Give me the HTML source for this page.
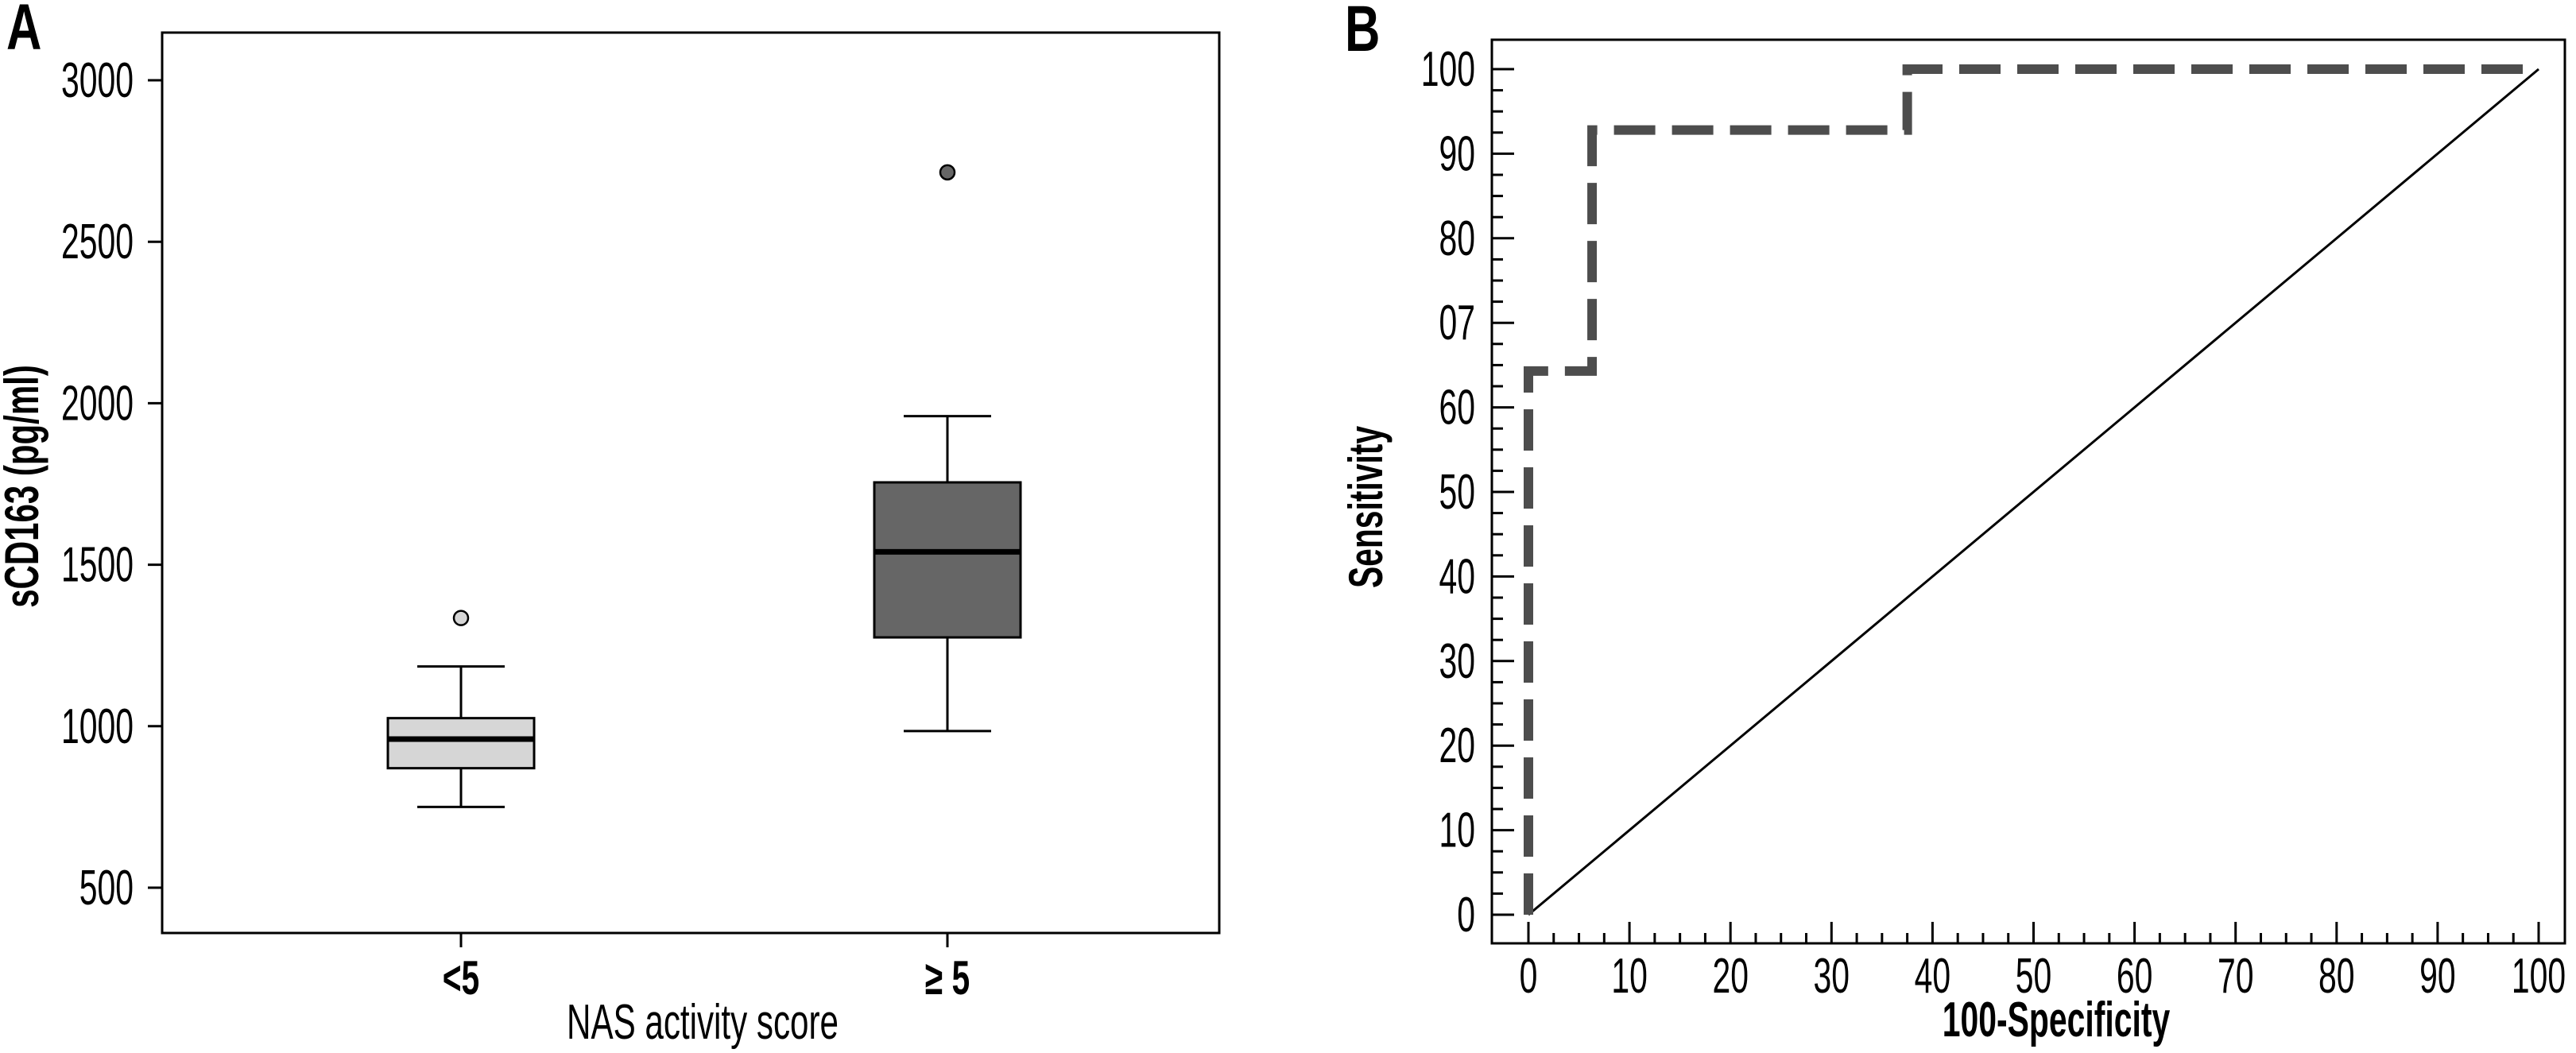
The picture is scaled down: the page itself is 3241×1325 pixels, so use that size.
<!DOCTYPE html>
<html><head><meta charset="utf-8"><style>
html,body{margin:0;padding:0;background:#fff;}
svg{display:block;}
text{font-family:"Liberation Sans",sans-serif;fill:#000;}
</style></head><body>
<svg id="chart" width="3241" height="1325" viewBox="0 0 3241 1325" xmlns="http://www.w3.org/2000/svg">
<g id="pa"></g>
<g id="pb"></g>
</svg>
<script>
// Panel A data
const groups = ["<5", "\u2265 5"];
const whiskerLow = [750, 985];
const q1 = [870, 1275];
const median = [960, 1540];
const q3 = [1025, 1755];
const whiskerHigh = [1185, 1960];
const outliers = [1335, 2715];
const boxFills = ["#d6d6d6", "#666666"];
const yTicksA = [500, 1000, 1500, 2000, 2500, 3000];
// Panel B data
const rocX = [0, 0, 6.3, 6.3, 37.5, 37.5, 100];
const rocY = [0, 64.3, 64.3, 92.8, 92.8, 100, 100];
const refX = [0, 100];
const refY = [0, 100];
const xTicksB = [0,10,20,30,40,50,60,70,80,90,100];
const yTicksB = [0,10,20,30,40,50,60,70,80,90,100];
const yTickLabelsB = ["0","10","20","30","40","50","60","07","80","90","100"];

const NS = "http://www.w3.org/2000/svg";
function mk(parent, tag, attrs){const e=document.createElementNS(NS,tag);for(const k in attrs)e.setAttribute(k,attrs[k]);parent.appendChild(e);return e;}
function txt(parent, s, x, y, size, anchor, weight, sx){
  const g=mk(parent,"g",{transform:`translate(${x},${y}) scale(${sx},1)`});
  const t=mk(g,"text",{x:0,y:0,"font-size":size,"text-anchor":anchor,"font-weight":weight});
  t.textContent=s;return t;
}
// ---- Panel A ----
const pa=document.getElementById("pa");
const AL=204, AR=1534, AT=41, AB=1174;
const yA=v=>101+(3000-v)/2500*(1117-101);
const xA=i=>[580,1192][i];
const frameA=mk(pa,"rect",{x:AL,y:AT,width:AR-AL,height:AB-AT,fill:"none",stroke:"#000","stroke-width":3});


yTicksA.forEach(v=>{
  const l=mk(pa,"line",{x1:AL-18,x2:AL,y1:yA(v),y2:yA(v),stroke:"#000","stroke-width":3});
  
  
  const t=txt(pa,String(v),168,yA(v)+21,62,"end","normal",0.66);
  
  
});
groups.forEach((g,i)=>{
  const cx=xA(i), hw=92, cw=55;
  const tk=mk(pa,"line",{x1:cx,x2:cx,y1:AB,y2:AB+18,stroke:"#000","stroke-width":3});
  
  
  const lab=txt(pa,g,cx,1251,60,"middle","bold",0.68);
  
  
  const w=mk(pa,"path",{d:`M${cx} ${yA(whiskerLow[i])}V${yA(q1[i])}M${cx} ${yA(q3[i])}V${yA(whiskerHigh[i])}M${cx-cw} ${yA(whiskerLow[i])}H${cx+cw}M${cx-cw} ${yA(whiskerHigh[i])}H${cx+cw}`,stroke:"#000","stroke-width":3,fill:"none"});
  
  
  const b=mk(pa,"rect",{x:cx-hw,y:yA(q3[i]),width:2*hw,height:yA(q1[i])-yA(q3[i]),fill:boxFills[i],stroke:"#000","stroke-width":3});
  
  
  const m=mk(pa,"line",{x1:cx-hw,x2:cx+hw,y1:yA(median[i]),y2:yA(median[i]),stroke:"#000","stroke-width":7});
  
  
  const o=mk(pa,"circle",{cx:cx,cy:yA(outliers[i]),r:9,fill:boxFills[i],stroke:"#000","stroke-width":2.5});
  
  
});
const xtA=txt(pa,"NAS activity score",884,1307,62,"middle","normal",0.68);


const ytA=mk(pa,"g",{transform:"translate(48,612) rotate(-90) scale(0.7,1)"});
const ytAt=mk(ytA,"text",{x:0,y:0,"font-size":60,"text-anchor":"middle","font-weight":"bold"});
ytAt.textContent="sCD163 (pg/ml)";


const la=txt(pa,"A",8,62,82,"start","bold",0.75);


// ---- Panel B ----
const pb=document.getElementById("pb");
const BL=1877, BR=3227, BT=50, BB=1187;
const xB=v=>1923+v/100*(3194-1923);
const yB=v=>1151-v/100*(1151-87);
const frameB=mk(pb,"rect",{x:BL,y:BT,width:BR-BL,height:BB-BT,fill:"none",stroke:"#000","stroke-width":3});


for(let v=0;v<=100;v+=2.5){
  const major=(v%10===0);
  const len=major?28:14;
  const ly=mk(pb,"line",{x1:BL,x2:BL+len,y1:yB(v),y2:yB(v),stroke:"#000","stroke-width":3});
  
  
  const lx=mk(pb,"line",{x1:xB(v),x2:xB(v),y1:BB,y2:BB-(major?27:13),stroke:"#000","stroke-width":3});
  
  
}
yTicksB.forEach((v,i)=>{
  const t=txt(pb,yTickLabelsB[i],1856,yB(v)+21,62,"end","normal",0.66);
  
  
});
xTicksB.forEach(v=>{
  const t=txt(pb,String(v),xB(v),1249,62,"middle","normal",0.66);
  
  
});
const ref=mk(pb,"polyline",{points:refX.map((x,i)=>xB(x)+","+yB(refY[i])).join(" "),fill:"none",stroke:"#000","stroke-width":3});


const roc=mk(pb,"polyline",{points:rocX.map((x,i)=>xB(x)+","+yB(rocY[i])).join(" "),fill:"none",stroke:"#4d4d4d","stroke-width":12,"stroke-dasharray":"52 21"});


const xtB=txt(pb,"100-Specificity",2587,1304,62,"middle","bold",0.66);


const ytB=mk(pb,"g",{transform:"translate(1739,638) rotate(-90) scale(0.68,1)"});
const ytBt=mk(ytB,"text",{x:0,y:0,"font-size":60,"text-anchor":"middle","font-weight":"bold"});
ytBt.textContent="Sensitivity";


const lb=txt(pb,"B",1692,64,82,"start","bold",0.75);


</script>
</body></html>
